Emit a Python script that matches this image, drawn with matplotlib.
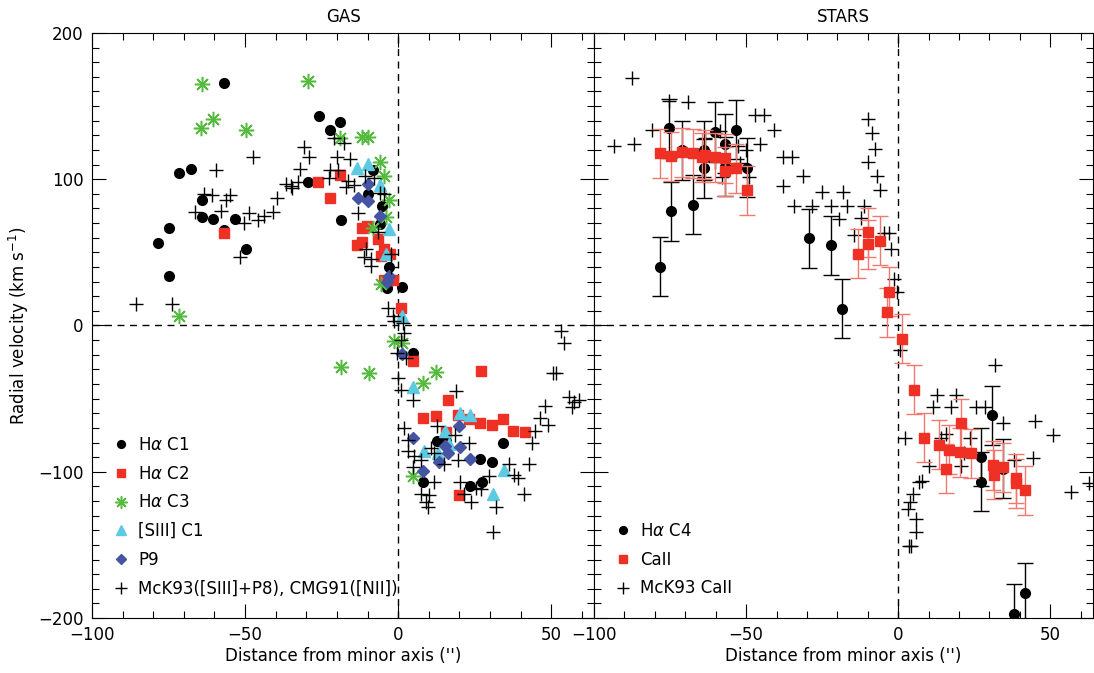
import matplotlib
matplotlib.use("Agg")
import matplotlib.pyplot as plt
from matplotlib.ticker import MultipleLocator

# ---- GAS panel data ----
c1_x = [-56.9, -71.6, -67.6, -64.0, -64.0, -60.5, -53.3, -57.0, -75.0, -78.4, -74.8, -49.7,
        -29.4, -26.0, -22.2, -19.0, -18.6, -9.8, -8.2, -5.2, -5.9, -2.9, -3.6, 1.3,
        4.9, 12.7, 15.7, 8.2, 26.8, 30.7, 34.3, 23.5, 27.4]
c1_y = [166, 104.6, 106.7, 86, 74.5, 72.5, 72.5, 65.6, 67, 56.7, 33.5, 52.6,
        97.8, 143, 134, 139, 71.8, 89.6, 106, 81.4, 69.7, 40.3, 25.3, 26,
        -19, -79, -79, -107, -91, -93, -80, -110, -107]

c2_x = [-56.9, -26.1, -19.0, -22.2, -11.8, -10.1, -11.8, -13.4, -6.5, -4.6, -5.6, -2.6,
        -1.6, -4.6, 1.0, 4.9, 27.1, 16.3, 8.2, 12.4, 19.6, 23.2, 26.8, 30.7, 34.3,
        37.6, 41.5, 15.7, 19.9]
c2_y = [63, 97.8, 103, 87.5, 67, 68, 57.4, 54.7, 58.8, 52.6, 47.2, 49,
        30.8, 31.4, 12.3, -24.6, -30.8, -51, -63, -62, -61.5, -64, -67, -68, -63.6,
        -71.8, -72.5, -73, -116]

c3_x = [-64.0, -29.4, -64.4, -60.5, -49.7, -19.0, -11.8, -9.8, -5.9, -4.6, -2.9, -3.9,
        -8.2, -5.6, -71.6, -1.3, 1.3, -18.6, -9.5, 12.4, 8.2, 4.9]
c3_y = [165, 167.5, 134.7, 141, 134, 128, 129, 129, 111.5, 102, 86, 74.5,
        67, 28.7, 6.2, -10.3, -12.3, -28.7, -32.8, -31.5, -39, -103]

s3_x = [-13.4, -9.8, -5.9, -2.9, -3.9, 1.3, 4.9, 20.3, 23.5, 15.4, 16.7, 8.5, 13.1, 34.6, 31.0]
s3_y = [108, 110.7, 96.4, 66.3, 49.2, 6.8, -42, -59.5, -61.5, -71.8, -80.7, -85.5, -87.5, -98.5, -115]

p9_x = [-9.8, -13.1, -9.8, -5.9, -2.9, -3.6, 1.3, 4.9, 19.9, 15.4, 16.3, 20.3, 13.4, 8.2, 23.5]
p9_y = [97, 87.5, 84.8, 75.2, 34, 29.4, -19.8, -77, -69, -82.7, -87.5, -83.4, -93, -99.8, -91.6]

mck_gas_x = [-85.6, -73.9, -59.5, -47.4, -63.4, -60.8, -56.2, -54.9, -66.3, -57.8, -48.7, -50.3,
             -45.8, -43.8, -40.8, -39.5, -36.6, -35.0, -34.6, -32.0, -30.7, -29.1, -32.7, -51.6,
             -20.9, -17.6, -19.9, -15.7, -22.2, -19.6, -16.3, -14.4, -17.0, -22.5, -13.1, -10.5,
             -11.1, -8.8, -8.8, -10.8, -7.8, -5.9, -4.6, -2.3, -3.3, -1.6, 1.6, -1.3, -2.3, -6.5,
             2.0, 0.0, 1.0, 4.9, 19.0, 2.0, 3.3, 5.2, 3.3, 7.5, 4.9, 10.8, 11.8, 12.7, 18.6,
             15.0, 19.6, 23.2, 20.3, 11.8, 7.5, 10.1, 9.2, 9.8, 21.6, 23.9, 25.5, 27.1, 29.7,
             32.0, 31.0, 36.3, 37.9, 39.2, 41.2, 42.8, 43.8, 44.8, 46.4, 49.0, 48.0, 50.7,
             51.6, 53.3, 54.2, 55.9, 57.5, 59.2, 56.9, 1.0, -0.3, 2.6]
mck_gas_y = [14.4, 15, 106, 115, 89.6, 88.9, 86, 88.9, 77.3, 78.6, 76.6, 70.4,
             71.8, 75.2, 77.3, 87.5, 97, 95.7, 93.7, 106.7, 121.7, 115, 97.8, 46.5,
             127.9, 125, 115, 114, 106, 106, 98.5, 96.4, 94.4, 101, 76.6, 52.6,
             46.5, 45.8, 41, 101.9, 101, 90.3, 89.6, 40.3, 12.3, 6.2, 1.4, 3.4, 49, 63.6,
             -4.8, -36, -44, -51, -45, -70, -78.6, -89, -85.5, -92.3, -97, -84, -87.5, -69, -75.2,
             -95, -92.3, -80, -107, -107, -115, -115.6, -121, -124, -115, -121, -110.8, -111.5, -103,
             -124, -141.5, -94.4, -101.9, -104, -115, -94.4, -80, -71.8, -63, -68, -54.7, -32.8,
             -32.8, -4.1, -12.3, -49, -52, -50.6, -56, -10, -19, -21.9]

# ---- STARS panel data ----
c4_x = [-75.2, -78.4, -74.8, -71.2, -67.6, -63.7, -63.7, -60.1, -56.9, -56.9, -53.3, -49.7,
        -29.4, -22.2, -18.6, 27.1, 27.1, 30.7, 34.6, 37.9, 41.8]
c4_y = [134.7, 40.3, 78, 119.7, 82.7, 119.7, 107.4, 132.6, 124.4, 108.7, 134, 108,
        59.5, 54.7, 11.6, -90, -106.7, -61.5, -97.8, -197, -182.6]
c4_err = [20] * len(c4_x)

ca_x = [-78.4, -74.8, -71.2, -67.6, -64.4, -63.4, -60.1, -56.9, -56.9, -53.3, -49.7,
        -13.1, -9.8, -9.8, -5.9, -2.9, -3.6, 1.3, 5.2, 8.5, 13.4, 15.7, 16.7, 20.6, 20.3,
        23.9, 31.0, 31.4, 34.6, 38.6, 38.6, 41.8]
ca_y = [117.6, 115.6, 118.3, 117.6, 114.9, 116.9, 114.9, 105.3, 114.2, 107.4, 92.3,
        49.2, 63.6, 55.4, 58.1, 23.2, 8.9, -8.9, -43.8, -76.6, -81.4, -97.8, -84.8, -67, -86.8,
        -87.5, -95.7, -101.9, -97, -108, -104.6, -112.8]
ca_err = [17] * len(ca_x)

mck_ca_x = [-87.6, -93.5, -87.0, -81.0, -75.2, -69.0, -63.4, -58.5, -60.1, -56.2, -52.6, -52.0,
            -50.0, -49.0, -57.8, -63.7, -47.0, -44.1, -45.4, -40.8, -37.9, -35.0, -31.4, -37.9,
            -34.3, -28.4, -25.2, -22.2, -18.3, -17.0, -19.6, -11.1, -12.4, -14.4, -9.8, -8.5,
            -7.8, -10.1, -6.9, -5.9, -4.6, -2.9, -2.3, -1.3, -0.3,
            0.7, 31.7, 2.3, 12.7, 19.0, 11.4, 17.3, 25.5, 28.4, 14.1, 15.7, 23.5, 21.6, 20.6,
            10.1, 7.8, 6.9, 4.9, 3.9, 3.3, 5.9, 5.9, 3.6, 4.2, 34.6, 37.9, 44.8, 44.4, 51.0,
            56.9, 62.7]
mck_ca_y = [168.9, 123, 124.4, 134, 153.8, 153, 128.5, 133.3, 112, 109.4, 122.4, 110.8,
            119.7, 101.2, 101.2, 101.2, 143.6, 143.6, 124.4, 134, 114.9, 114.9, 101.9, 95.7,
            82, 82, 91.6, 82, 91.6, 82, 72.5, 82, 73.2, 62.2, 141.5, 131.3,
            121, 111.5, 101.9, 92.3, 62.9, 62.9, 52, 32.1, 22.6,
            -17, -26.7, -76.6, -47.2, -47.2, -56, -56, -56, -56, -76.6, -74.5, -76.6, -87.5, -96.4,
            -96.4, -106, -106.7, -115, -121, -125.8, -132, -141.5, -151, -151, -67, -92.3, -65.6,
            -90.3, -75.2, -113.5, -107.4]

RED = "#ee3124"
GREEN = "#55bb3f"
CYAN = "#5ccae2"
BLUE = "#4555a3"

plt.rcParams['font.family'] = ['DejaVu Sans']
plt.rcParams['font.size'] = 12

fig = plt.figure(figsize=(10.94, 6.73), dpi=100)
ax1 = fig.add_axes([0.0841, 0.0817, 0.4589, 0.8693])
ax2 = fig.add_axes([0.5430, 0.0817, 0.4560, 0.8693])

for ax in (ax1, ax2):
    ax.set_xlim(-100, 64)
    ax.set_ylim(-200, 200)
    ax.axhline(0, color='k', ls=(0, (5, 4)), lw=1.0, zorder=1)
    ax.axvline(0, color='k', ls=(0, (5, 4)), lw=1.0, zorder=1)
    ax.xaxis.set_major_locator(MultipleLocator(50))
    ax.xaxis.set_minor_locator(MultipleLocator(10))
    ax.yaxis.set_major_locator(MultipleLocator(100))
    ax.yaxis.set_minor_locator(MultipleLocator(10))
    ax.tick_params(which='both', direction='in', top=True, right=True, width=0.8)
    ax.tick_params(which='major', length=10, labelsize=12, pad=6)
    ax.tick_params(which='minor', length=5)
    for sp in ax.spines.values():
        sp.set_linewidth(0.8)
    ax.set_xlabel("Distance from minor axis ('')", fontsize=12, labelpad=2)

ax2.tick_params(labelleft=False)

ax1.set_ylabel("Radial velocity (km s$^{-1}$)", fontsize=12, labelpad=5)
ax1.set_title("GAS", fontsize=12, pad=8)
ax2.set_title("STARS", fontsize=12, pad=8)

# GAS panel
ax1.plot(c1_x, c1_y, 'o', color='k', ms=7, ls='none', label=r"H$\alpha$ C1", zorder=3)
ax1.plot(c2_x, c2_y, 's', color=RED, ms=7.5, ls='none', label=r"H$\alpha$ C2", zorder=3)
ax1.plot(c3_x, c3_y, marker=(8, 2, 0), color=GREEN, ms=11, mew=1.1, ls='none',
         label=r"H$\alpha$ C3", zorder=3)
ax1.plot(s3_x, s3_y, '^', color=CYAN, ms=8.5, ls='none', label="[SIII] C1", zorder=3)
ax1.plot(p9_x, p9_y, 'D', color=BLUE, ms=6.5, ls='none', label="P9", zorder=3)
ax1.plot(mck_gas_x, mck_gas_y, '+', color='k', ms=10, mew=1.0, ls='none',
         label="McK93([SIII]+P8), CMG91([NII])", zorder=4)

ax1.legend(loc='lower left', frameon=False, fontsize=12, handlelength=1.0,
           handletextpad=0.52, labelspacing=0.64, borderaxespad=0.84, markerscale=0.8)

# STARS panel
ax2.plot(mck_ca_x, mck_ca_y, '+', color='k', ms=10, mew=1.0, ls='none', zorder=2)
ax2.errorbar(c4_x, c4_y, yerr=c4_err, fmt='none', ecolor='k', elinewidth=1.0,
             capsize=6, capthick=1.0, zorder=3)
ax2.plot(c4_x, c4_y, 'o', color='k', ms=7, ls='none', zorder=3)
ax2.errorbar(ca_x, ca_y, yerr=ca_err, fmt='none', ecolor='#f0786e', elinewidth=1.0,
             capsize=6, capthick=1.0, zorder=4)
ax2.plot(ca_x, ca_y, 's', color=RED, ms=7.5, ls='none', zorder=4)

h1, = ax2.plot([], [], 'o', color='k', ms=7, ls='none')
h2, = ax2.plot([], [], 's', color=RED, ms=7.5, ls='none')
h3, = ax2.plot([], [], '+', color='k', ms=10, mew=1.0, ls='none')
ax2.legend(handles=[h1, h2, h3], labels=[r"H$\alpha$ C4", "CaII", "McK93 CaII"],
           loc='lower left', frameon=False, fontsize=12, handlelength=1.0,
           handletextpad=0.52, labelspacing=0.64, borderaxespad=0.84, markerscale=0.8)

fig.savefig("out.png", dpi=100)
